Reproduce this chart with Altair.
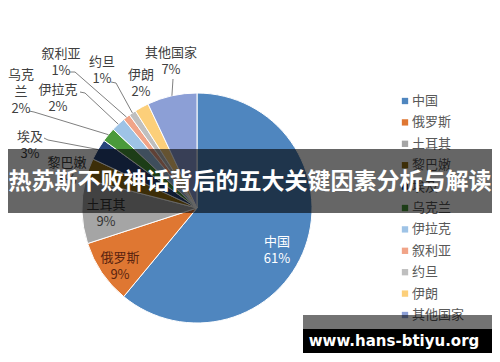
import math
import altair as alt
import pandas as pd

# ---------------- data ----------------
countries = ["中国", "俄罗斯", "土耳其", "黎巴嫩", "埃及", "乌克兰", "伊拉克", "叙利亚", "约旦", "伊朗", "其他国家"]
shares = [61, 9, 9, 3, 3, 2, 2, 1, 1, 2, 7]
colors = ["#4f86bf", "#df7732", "#a5a5a5", "#9a7416", "#27457c", "#4a9a3b",
          "#9ec3e6", "#f1a488", "#bfbfbf", "#fccf7a", "#8c9fd6"]
banner_title = "热苏斯不败神话背后的五大关键因素分析与解读"
watermark = "www.hans-btiyu.org"

# ---------------- layout (plot coords, page minus 8px margin) ----------------
W, H = 484, 346
CX, CY, R = 189, 200, 115

# label lines and positions: (lines, x, first y, color)
label_layout = {
    "中国": (["中国", "61%"], 269, 234, "#ffffff"),
    "俄罗斯": (["俄罗斯", "9%"], 112, 250, "#5a2410"),
    "土耳其": (["土耳其", "9%"], 98, 197, "#333333"),
    "黎巴嫩": (["黎巴嫩", "3%"], 59, 155, "#404040"),
    "埃及": (["埃及", "3%"], 22, 129, "#404040"),
    "乌克兰": (["乌克", "兰", "2%"], 13, 67, "#404040"),
    "伊拉克": (["伊拉克", "2%"], 50, 82, "#404040"),
    "叙利亚": (["叙利亚", "1%"], 53, 46, "#404040"),
    "约旦": (["约旦", "1%"], 94, 54, "#404040"),
    "伊朗": (["伊朗", "2%"], 133, 67, "#404040"),
    "其他国家": (["其他国家", "7%"], 163, 45, "#404040"),
}
LINE_GAP = 17
# leader line points on the label side
leader_layout = {
    "叙利亚": [(62, 64), (67, 64)],
    "约旦": [(103, 74), (108, 75)],
    "伊拉克": [(72, 84), (77, 85)],
    "乌克兰": [(21, 103), (26, 104)],
    "埃及": [(36, 130), (40, 132)],
    "其他国家": [(165, 71)],
}

df = pd.DataFrame({"country": countries, "share": shares, "idx": range(len(countries))})

# mid angles of slices from the data
total = sum(shares)
cum = 0
mid_pt = {}
for c, s in zip(countries, shares):
    a = (cum + s / 2) / total * 2 * math.pi
    mid_pt[c] = (CX + R * math.sin(a), CY - R * math.cos(a))
    cum += s

rows = []
for c, (lines, x, y0, col) in label_layout.items():
    for i, t in enumerate(lines):
        rows.append({"country": c, "text": t, "x": x, "y": y0 + i * LINE_GAP, "col": col})
labels_df = pd.DataFrame(rows)

lrows = []
for c, pts in leader_layout.items():
    allpts = pts + [mid_pt[c]]
    for k, (x, y) in enumerate(allpts):
        lrows.append({"country": c, "k": k, "x": x, "y": y})
leader_df = pd.DataFrame(lrows)

LEG_X, LEG_Y0, LEG_STEP = 397, 93, 21.4
legend_df = pd.DataFrame({
    "country": countries,
    "y": [LEG_Y0 + i * LEG_STEP for i in range(len(countries))],
})

color_scale = alt.Scale(domain=countries, range=colors)
FONT = "Noto Sans CJK SC"

pie = alt.Chart(df).mark_arc(outerRadius=R, stroke="white", strokeWidth=1).encode(
    theta=alt.Theta("share:Q", stack=True),
    order=alt.Order("idx:Q"),
    color=alt.Color("country:N", scale=color_scale, legend=None),
    x=alt.value(CX), y=alt.value(CY),
)

leaders = alt.Chart(leader_df).mark_line(color="#7f7f7f", strokeWidth=1).encode(
    x=alt.X("x:Q", scale=None, axis=None),
    y=alt.Y("y:Q", scale=None, axis=None),
    detail="country:N",
    order="k:Q",
)

labels = alt.Chart(labels_df).mark_text(font=FONT, fontSize=13, align="center", baseline="middle").encode(
    x=alt.X("x:Q", scale=None, axis=None),
    y=alt.Y("y:Q", scale=None, axis=None),
    text="text:N",
    color=alt.Color("col:N", scale=None),
)

leg_sq = alt.Chart(legend_df).mark_square(size=40, opacity=1).encode(
    x=alt.value(LEG_X),
    y=alt.Y("y:Q", scale=None, axis=None),
    color=alt.Color("country:N", scale=color_scale, legend=None),
)
leg_txt = alt.Chart(legend_df).mark_text(font=FONT, fontSize=13, align="left", baseline="middle",
                                          color="#595959").encode(
    x=alt.value(LEG_X + 7),
    y=alt.Y("y:Q", scale=None, axis=None),
    text="country:N",
)

banner_df = pd.DataFrame({"t": [banner_title]})
banner = alt.Chart(banner_df).mark_rect(color="black", opacity=0.6).encode(
    x=alt.value(0), x2=alt.value(W), y=alt.value(141), y2=alt.value(205))
banner_txt = alt.Chart(banner_df).mark_text(font=FONT, fontSize=23, fontWeight="bold", color="white",
                                            align="center", baseline="middle").encode(
    x=alt.value(242), y=alt.value(174), text="t:N")

wm_df = pd.DataFrame({"t": [watermark]})
wm_gray = alt.Chart(wm_df).mark_rect(color="black", opacity=0.55).encode(
    x=alt.value(295), x2=alt.value(W), y=alt.value(307), y2=alt.value(321))
wm_black = alt.Chart(wm_df).mark_rect(color="black", opacity=1).encode(
    x=alt.value(295), x2=alt.value(W), y=alt.value(321), y2=alt.value(345))
wm_txt = alt.Chart(wm_df).mark_text(font="DejaVu Sans", fontSize=15, fontWeight="bold", color="white",
                                    align="center", baseline="middle").encode(
    x=alt.value(386), y=alt.value(333), text="t:N")

chart = alt.layer(
    pie, leaders, labels, leg_sq, leg_txt, banner, banner_txt, wm_gray, wm_black, wm_txt
).properties(
    width=W, height=H, padding=0, autosize=alt.AutoSizeParams(type="none")
).configure_view(stroke=None)

chart.save("out.html", embed_options={"renderer": "svg", "actions": False})
